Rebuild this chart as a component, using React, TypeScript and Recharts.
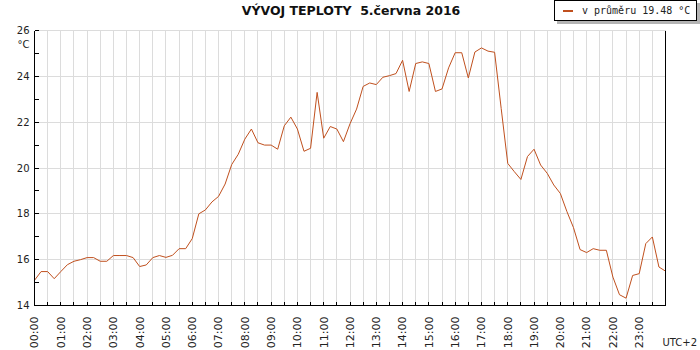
import { LineChart, Line, XAxis, YAxis, CartesianGrid, ReferenceLine, Legend } from 'recharts';

// temperature every 15 minutes, 00:00 .. 24:00
const temps = [
  15.1, 15.48, 15.48, 15.17,
  15.48, 15.78, 15.93, 16.0,
  16.09, 16.09, 15.93, 15.93,
  16.18, 16.18, 16.18, 16.09,
  15.7, 15.77, 16.09, 16.18,
  16.1, 16.19, 16.48, 16.48,
  16.92, 18.0, 18.17, 18.52,
  18.76, 19.3, 20.15, 20.6,
  21.26, 21.7, 21.1, 21.0,
  21.0, 20.82, 21.84, 22.22,
  21.7, 20.73, 20.86, 23.3,
  21.3, 21.81, 21.7, 21.15,
  21.93, 22.57, 23.56, 23.71,
  23.64, 23.96, 24.03, 24.12,
  24.7, 23.34, 24.56, 24.63,
  24.56, 23.34, 23.45, 24.37,
  25.03, 25.03, 23.93, 25.06,
  25.24, 25.1, 25.05, 22.6,
  20.2, 19.84, 19.5, 20.5,
  20.82, 20.13, 19.77, 19.26,
  18.89, 18.1, 17.4, 16.44,
  16.31, 16.48, 16.41, 16.41,
  15.24, 14.47, 14.32, 15.31,
  15.39, 16.7, 16.99, 15.68,
  15.5,
];

const hourLabels = [
  '00:00', '01:00', '02:00', '03:00', '04:00', '05:00', '06:00', '07:00',
  '08:00', '09:00', '10:00', '11:00', '12:00', '13:00', '14:00', '15:00',
  '16:00', '17:00', '18:00', '19:00', '20:00', '21:00', '22:00', '23:00',
];
const xTicks = Array.from({ length: 49 }, (_, i) => i / 2); // every half hour
const yTicks = [14, 15, 16, 17, 18, 19, 20, 21, 22, 23, 24, 25, 26];
const yGrid = [16, 18, 20, 22, 24, 26];

const title = 'VÝVOJ TEPLOTY  5.června 2016';
const legendText = 'v průměru 19.48 °C';

const data = temps.map((t, i) => ({ time: i / 4, temp: t }));

const lineColor = '#c0501e';
const font = 'DejaVu Sans';

const XTick = (props: any) => {
  const { x, y, payload } = props;
  const v = payload.value;
  const label = Number.isInteger(v) ? hourLabels[v] : undefined;
  return (
    <g>
      <line x1={x} y1={y} x2={x} y2={y - 4} stroke="#000" shapeRendering="crispEdges" />
      {label && (
        <text
          x={x}
          y={y + 11}
          transform={`rotate(-90 ${x} ${y + 11})`}
          textAnchor="end"
          dy="0.35em"
          fontSize={11}
          fontFamily={font}
          fill="#222"
        >
          {label}
        </text>
      )}
    </g>
  );
};

const YTickLeft = (props: any) => {
  const { x, y, payload } = props;
  const v = payload.value;
  return (
    <g>
      <line x1={x} y1={y} x2={x + 4} y2={y} stroke="#000" shapeRendering="crispEdges" />
      {v % 2 === 0 && (
        <text x={x - 5} y={y} dy="0.35em" textAnchor="end" fontSize={10} fontFamily={font} fill="#222">
          {v}
        </text>
      )}
      {v === 26 && (
        <text x={x - 5} y={y + 14} dy="0.35em" textAnchor="end" fontSize={10} fontFamily={font} fill="#222">
          °C
        </text>
      )}
    </g>
  );
};

const YTickRight = (props: any) => {
  const { x, y, payload } = props;
  const v = payload.value;
  return (
    <g>
      <line x1={x} y1={y} x2={x - 4} y2={y} stroke="#000" shapeRendering="crispEdges" />
      {v % 2 === 0 && (
        <text x={x + 9} y={y} dy="0.35em" textAnchor="start" fontSize={10} fontFamily={font} fill="#222">
          {v}
        </text>
      )}
    </g>
  );
};

const LegendBox = () => (
  <div
    style={{
      boxSizing: 'border-box',
      width: 143,
      height: 21,
      border: '1px solid #000',
      background: '#fff',
      boxShadow: '3px 3px 0 #b4b4b4',
      display: 'flex',
      alignItems: 'center',
      fontFamily: 'DejaVu Sans Mono',
      fontSize: 10,
      color: '#222',
      whiteSpace: 'pre',
    }}
  >
    <span style={{ display: 'inline-block', width: 10, height: 2, background: lineColor, marginLeft: 8, marginRight: 9 }} />
    {legendText}
  </div>
);

export default function App() {
  return (
    <div style={{ position: 'absolute', left: 0, top: 0, width: 700, height: 350, background: '#fff' }}>
      <LineChart width={700} height={350} data={data} margin={{ top: 30.5, right: 0, bottom: 0, left: 0 }}>
        <CartesianGrid yAxisId="left" horizontal={false} stroke="#dcdcdc" shapeRendering="crispEdges" />
        {yGrid.map((v) => (
          <ReferenceLine key={v} yAxisId="left" y={v} stroke="#dcdcdc" shapeRendering="crispEdges" />
        ))}
        <XAxis
          dataKey="time"
          type="number"
          domain={[0, 24]}
          ticks={xTicks}
          interval={0}
          tick={<XTick />}
          tickLine={false}
          tickSize={0}
          tickMargin={0}
          height={44.5}
          axisLine={{ stroke: '#000', shapeRendering: 'crispEdges' }}
        />
        <YAxis
          yAxisId="left"
          type="number"
          domain={[14, 26]}
          ticks={yTicks}
          interval={0}
          width={34.5}
          tick={<YTickLeft />}
          tickLine={false}
          tickSize={0}
          tickMargin={0}
          axisLine={{ stroke: '#000', shapeRendering: 'crispEdges' }}
        />
        <YAxis
          yAxisId="right"
          orientation="right"
          type="number"
          domain={[14, 26]}
          ticks={yTicks}
          interval={0}
          width={34.5}
          tick={<YTickRight />}
          tickLine={false}
          tickSize={0}
          tickMargin={0}
          axisLine={{ stroke: '#000', shapeRendering: 'crispEdges' }}
        />
        <Line
          yAxisId="left"
          type="linear"
          dataKey="temp"
          stroke={lineColor}
          strokeWidth={1}
          dot={false}
          activeDot={false}
          isAnimationActive={false}
        />
        <Legend
          layout="vertical"
          align="center"
          verticalAlign="middle"
          content={<LegendBox />}
          wrapperStyle={{ top: 0, left: 554, width: 146 }}
        />
        <text x={351} y={15} textAnchor="middle" fontSize={12.5} fontWeight="bold" fontFamily={font} fill="#111" style={{ whiteSpace: 'pre' }}>
          {title}
        </text>
        <text x={697} y={346} textAnchor="end" fontSize={10} fontFamily={font} fill="#222">
          UTC+2
        </text>
      </LineChart>
    </div>
  );
}
